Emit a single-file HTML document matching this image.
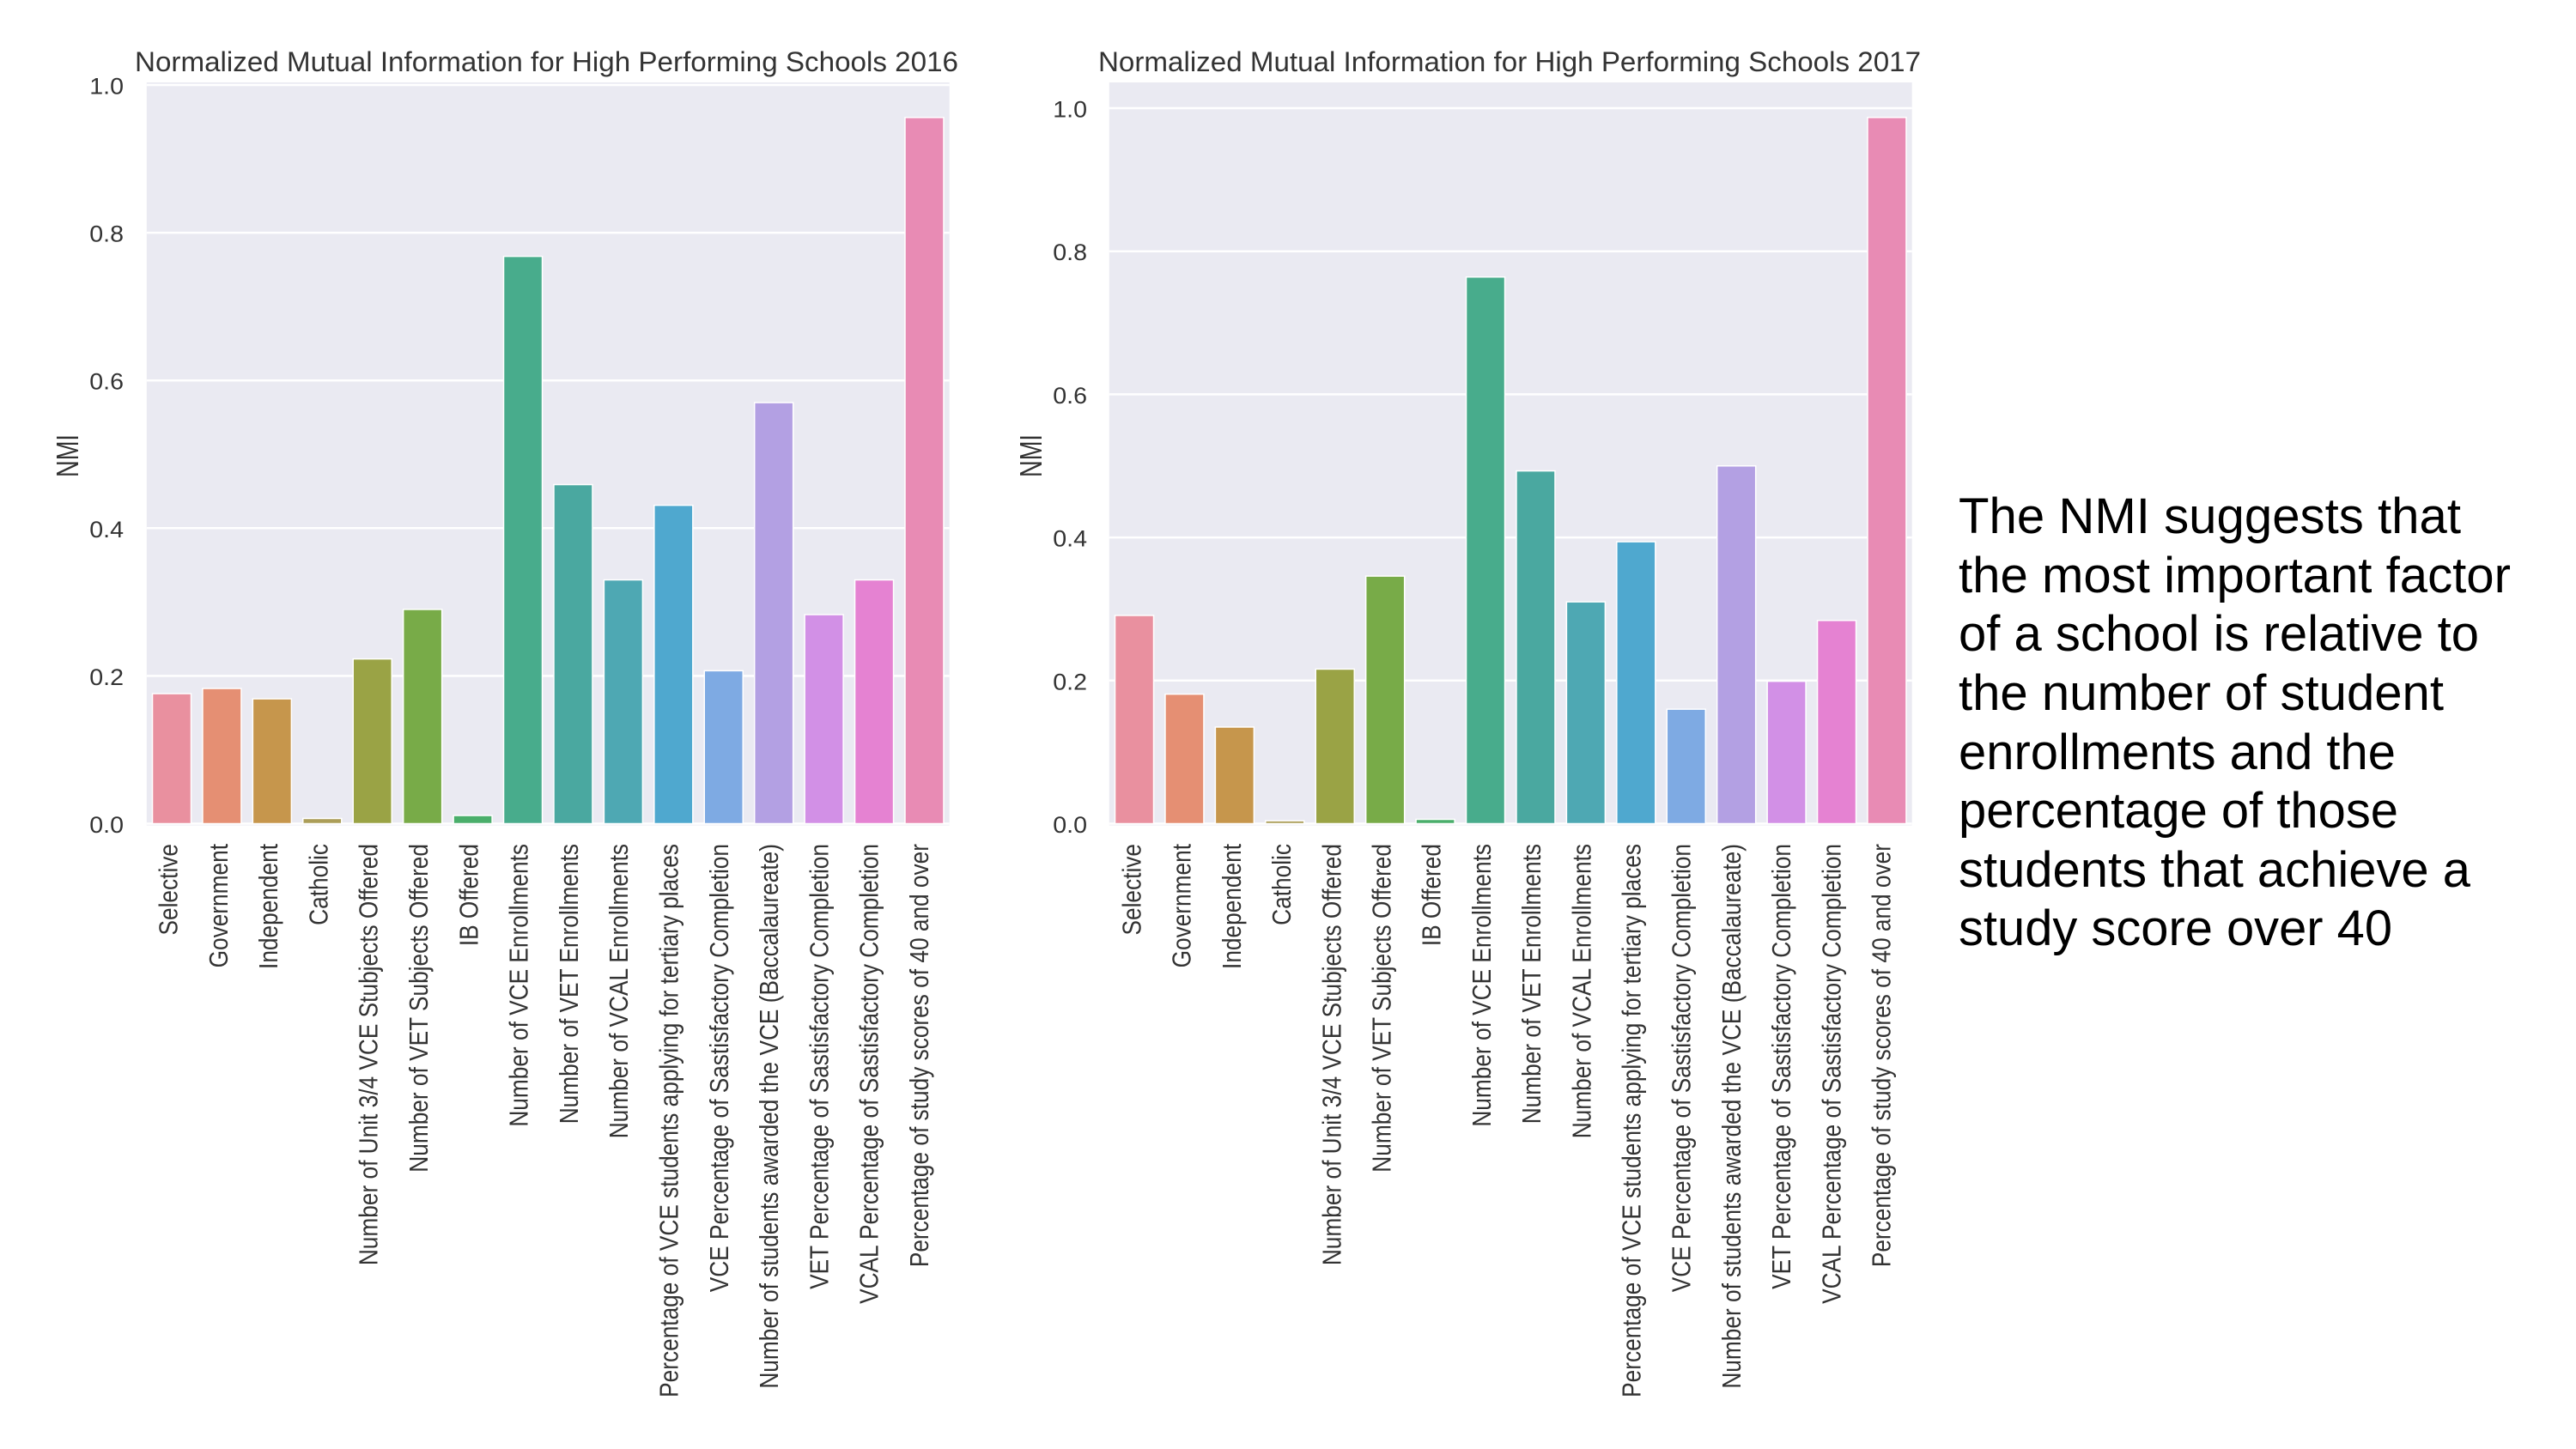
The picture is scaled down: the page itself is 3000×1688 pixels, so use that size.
<!DOCTYPE html>
<html lang="en">
<head>
<meta charset="utf-8">
<title>Normalized Mutual Information for High Performing Schools</title>
<style>
  html, body { margin: 0; padding: 0; background: #fff; }
  body { width: 3000px; height: 1688px; overflow: hidden; }
  svg { display: block; font-family: "Liberation Sans", Arial, sans-serif; }
  .chart-title { font-size: 32px; fill: #333; }
  .tick { font-size: 27px; fill: #333; text-anchor: end; }
  .cat { font-size: 31px; fill: #333; text-anchor: end; }
  .axis-title { font-size: 36px; fill: #333; text-anchor: middle; }
  .note { font-size: 58px; fill: #000; }
</style>
</head>
<body>
<svg id="figure" width="3000" height="1688" viewBox="0 0 3000 1688" xmlns="http://www.w3.org/2000/svg">
  <rect x="0" y="0" width="3000" height="1688" fill="#ffffff"/>
  <g id="panel-2016"></g>
  <g id="panel-2017"></g>
  <text class="chart-title" x="157" y="83" textLength="959" lengthAdjust="spacingAndGlyphs">Normalized Mutual Information for High Performing Schools 2016</text>
  <text class="chart-title" x="1279" y="83" textLength="958" lengthAdjust="spacingAndGlyphs">Normalized Mutual Information for High Performing Schools 2017</text>
  <text class="axis-title" textLength="50" lengthAdjust="spacingAndGlyphs" transform="translate(91,531) rotate(-90)">NMI</text>
  <text class="axis-title" textLength="50" lengthAdjust="spacingAndGlyphs" transform="translate(1213,531) rotate(-90)">NMI</text>
  <g>
    <text class="note" x="2281" y="621" textLength="585" lengthAdjust="spacingAndGlyphs">The NMI suggests that</text>
    <text class="note" x="2281" y="690" textLength="643" lengthAdjust="spacingAndGlyphs">the most important factor</text>
    <text class="note" x="2281" y="758" textLength="606" lengthAdjust="spacingAndGlyphs">of a school is relative to</text>
    <text class="note" x="2281" y="827" textLength="565" lengthAdjust="spacingAndGlyphs">the number of student</text>
    <text class="note" x="2281" y="896" textLength="509" lengthAdjust="spacingAndGlyphs">enrollments and the</text>
    <text class="note" x="2281" y="964" textLength="512" lengthAdjust="spacingAndGlyphs">percentage of those</text>
    <text class="note" x="2281" y="1033" textLength="596" lengthAdjust="spacingAndGlyphs">students that achieve a</text>
    <text class="note" x="2281" y="1101" textLength="505" lengthAdjust="spacingAndGlyphs">study score over 40</text>
  </g>
</svg>
<script>
const categories = [
  "Selective", "Government", "Independent", "Catholic",
  "Number of Unit 3/4 VCE Stubjects Offered", "Number of VET Subjects Offered", "IB Offered",
  "Number of VCE Enrollments", "Number of VET Enrollments", "Number of VCAL Enrollments",
  "Percentage of VCE students applying for tertiary places",
  "VCE Percentage of Sastisfactory Completion",
  "Number of students awarded the VCE (Baccalaureate)",
  "VET Percentage of Sastisfactory Completion",
  "VCAL Percentage of Sastisfactory Completion",
  "Percentage of study scores of 40 and over"
];
const values2016 = [0.176, 0.183, 0.169, 0.007, 0.223, 0.290, 0.011, 0.768, 0.459, 0.330, 0.431, 0.207, 0.570, 0.283, 0.330, 0.956];
const values2017 = [0.291, 0.181, 0.135, 0.004, 0.216, 0.346, 0.006, 0.764, 0.493, 0.310, 0.394, 0.160, 0.500, 0.199, 0.284, 0.987];
const yTicks = [0, 0.2, 0.4, 0.6, 0.8, 1.0];
const palette = ["#e9909f", "#e58f73", "#c6964c", "#ab9d58", "#9aa345", "#78ab48", "#4aae6b", "#48ac8c", "#4aa8a0", "#4ea8b3", "#4fa8cf", "#7eaae3", "#b3a0e3", "#d290e6", "#e582d2", "#e88bb4"];

const NS = "http://www.w3.org/2000/svg";

// Horizontal compression of the rotated labels in the reference image:
// the longest label spans 645px along the axis.
function measureLabelScale(host) {
  const probe = document.createElementNS(NS, "text");
  probe.setAttribute("class", "cat");
  probe.textContent = categories[10];
  host.appendChild(probe);
  const len = probe.getComputedTextLength();
  host.removeChild(probe);
  return 645 / len;
}

function drawPanel(host, year, values, frame) {
  const bandWidth = (frame.right - frame.left) / categories.length;
  const barWidth = bandWidth * 0.77;
  const xScale = function (i) { return frame.left + bandWidth * (i + 0.5); };
  const yScale = function (v) { return frame.zeroY - v * frame.unitY; };
  const labelScale = measureLabelScale(host);

  const bg = document.createElementNS(NS, "rect");
  
  
  bg.setAttribute("x", frame.left);
  bg.setAttribute("y", frame.top);
  bg.setAttribute("width", frame.right - frame.left);
  bg.setAttribute("height", frame.zeroY + 2 - frame.top);
  bg.setAttribute("fill", "#eaeaf2");
  host.appendChild(bg);

  yTicks.forEach(function (t) {
    const line = document.createElementNS(NS, "line");
    
    
    line.setAttribute("x1", frame.left);
    line.setAttribute("x2", frame.right);
    line.setAttribute("y1", yScale(t));
    line.setAttribute("y2", yScale(t));
    line.setAttribute("stroke", "#ffffff");
    line.setAttribute("stroke-width", "2.5");
    host.appendChild(line);

    const label = document.createElementNS(NS, "text");
    
    
    label.setAttribute("class", "tick");
    label.setAttribute("transform", "translate(" + frame.tickX + "," + (yScale(t) + 10.5) + ") scale(1.06,1)");
    label.textContent = t.toFixed(1);
    host.appendChild(label);
  });

  values.forEach(function (v, i) {
    const bar = document.createElementNS(NS, "rect");
    
    
    bar.setAttribute("x", xScale(i) - barWidth / 2);
    bar.setAttribute("y", yScale(v));
    bar.setAttribute("width", barWidth);
    bar.setAttribute("height", yScale(0) - yScale(v));
    bar.setAttribute("fill", palette[i]);
    bar.setAttribute("stroke", "#ffffff");
    bar.setAttribute("stroke-width", "1.5");
    host.appendChild(bar);
  });

  categories.forEach(function (name, i) {
    const label = document.createElementNS(NS, "text");
    
    
    label.setAttribute("class", "cat");
    const bx = frame.labelStart + frame.labelPitch * i;
    label.setAttribute("transform", "translate(" + bx + ",983) rotate(-90) scale(" + labelScale + ",1)");
    label.textContent = name;
    host.appendChild(label);
  });
}

drawPanel(document.getElementById("panel-2016"), 2016, values2016, {
  left: 170.8, right: 1105.7, top: 96, zeroY: 959.5, unitY: 860.5, tickX: 144, labelStart: 206.5, labelPitch: 58.3
});
drawPanel(document.getElementById("panel-2017"), 2017, values2017, {
  left: 1291.8, right: 2226.7, top: 96, zeroY: 959.5, unitY: 833.5, tickX: 1266, labelStart: 1328.5, labelPitch: 58.2
});
</script>
</body>
</html>
